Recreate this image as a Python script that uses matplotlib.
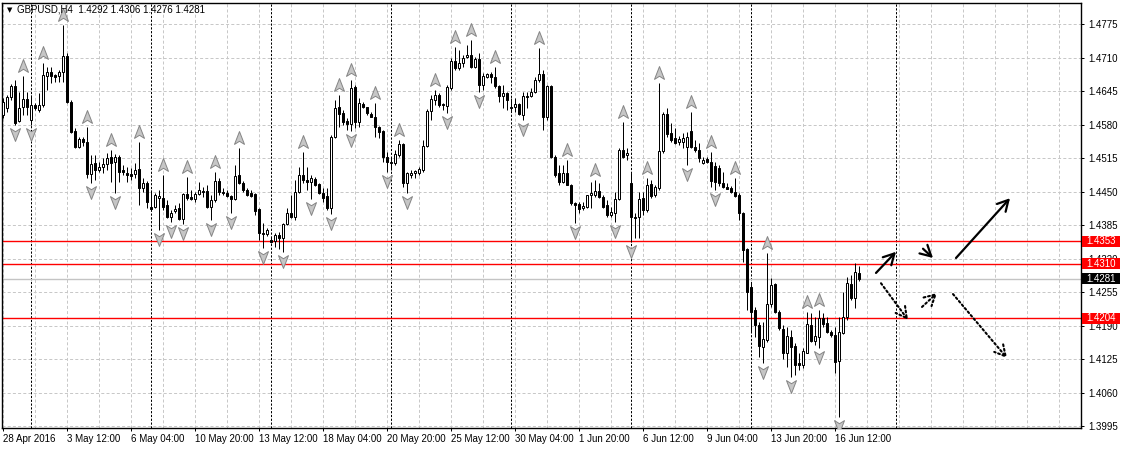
import matplotlib
matplotlib.use("Agg")
import matplotlib.pyplot as plt
from matplotlib.path import Path
from matplotlib.patches import Rectangle, FancyArrowPatch
import matplotlib.transforms as mtransforms

plt.rcParams['font.family'] = ['Liberation Sans', 'DejaVu Sans']

# ---------------- data ----------------
title_text = "GBPUSD,H4  1.4292 1.4306 1.4276 1.4281"

opens = [1.4598, 1.4612, 1.4633, 1.4655, 1.4587, 1.4614, 1.4630, 1.4589, 1.4618, 1.4608,
         1.4618, 1.4674, 1.4682, 1.4676, 1.4674, 1.4682, 1.4713, 1.4624, 1.4567, 1.4536,
         1.4552, 1.4546, 1.4484, 1.4505, 1.4492, 1.4498, 1.4503, 1.4517, 1.4507, 1.4517,
         1.4492, 1.4486, 1.4484, 1.4484, 1.4494, 1.4457, 1.4466, 1.4420, 1.4420, 1.4437,
         1.4437, 1.4424, 1.4400, 1.4412, 1.4418, 1.4397, 1.4445, 1.4439, 1.4435, 1.4445,
         1.4451, 1.4451, 1.4420, 1.4434, 1.4470, 1.4449, 1.4447, 1.4441, 1.4435, 1.4482,
         1.4466, 1.4453, 1.4447, 1.4445, 1.4416, 1.4369, 1.4368, 1.4356, 1.4354, 1.4366,
         1.4360, 1.4387, 1.4408, 1.4400, 1.4449, 1.4482, 1.4472, 1.4468, 1.4474, 1.4465,
         1.4447, 1.4441, 1.4418, 1.4556, 1.4614, 1.4602, 1.4587, 1.4581, 1.4653, 1.4585,
         1.4620, 1.4614, 1.4600, 1.4595, 1.4575, 1.4567, 1.4517, 1.4505, 1.4505, 1.4521,
         1.4542, 1.4466, 1.4482, 1.4486, 1.4486, 1.4492, 1.4538, 1.4606, 1.4628, 1.4637,
         1.4620, 1.4616, 1.4651, 1.4703, 1.4690, 1.4699, 1.4711, 1.4715, 1.4692, 1.4707,
         1.4657, 1.4672, 1.4678, 1.4672, 1.4655, 1.4635, 1.4641, 1.4614, 1.4614, 1.4620,
         1.4598, 1.4635, 1.4635, 1.4643, 1.4666, 1.4678, 1.4595, 1.4655, 1.4517, 1.4486,
         1.4468, 1.4486, 1.4463, 1.4428, 1.4426, 1.4418, 1.4420, 1.4443, 1.4443, 1.4451,
         1.4439, 1.4424, 1.4404, 1.4408, 1.4435, 1.4531, 1.4521, 1.4466, 1.4400, 1.4400,
         1.4437, 1.4414, 1.4465, 1.4443, 1.4457, 1.4529, 1.4600, 1.4564, 1.4554, 1.4546,
         1.4546, 1.4536, 1.4567, 1.4536, 1.4531, 1.4505, 1.4513, 1.4507, 1.4500, 1.4496,
         1.4466, 1.4459, 1.4457, 1.4449, 1.4443, 1.4408, 1.4339, 1.4265, 1.4220, 1.4191,
         1.4148, 1.4162, 1.4232, 1.4271, 1.4216, 1.4183, 1.4137, 1.4168, 1.4150, 1.4117,
         1.4113, 1.4137, 1.4191, 1.4160, 1.4168, 1.4205, 1.4195, 1.4177, 1.4172, 1.4121,
         1.4175, 1.4207, 1.4271, 1.4243, 1.4292]

highs = [1.4631, 1.4637, 1.4659, 1.4666, 1.4643, 1.4674, 1.4643, 1.4637, 1.4622, 1.4641,
         1.4699, 1.4692, 1.4692, 1.4678, 1.4686, 1.4773, 1.4719, 1.4628, 1.4573, 1.4556,
         1.4556, 1.4575, 1.4521, 1.4521, 1.4507, 1.4515, 1.4525, 1.4531, 1.4523, 1.4521,
         1.4501, 1.4498, 1.4496, 1.4505, 1.4546, 1.4476, 1.4470, 1.4453, 1.4447, 1.4453,
         1.4482, 1.4434, 1.4414, 1.4424, 1.4428, 1.4447, 1.4478, 1.4453, 1.4449, 1.4468,
         1.4459, 1.4463, 1.4443, 1.4488, 1.4476, 1.4457, 1.4453, 1.4443, 1.4501, 1.4534,
         1.4470, 1.4457, 1.4453, 1.4447, 1.4418, 1.4389, 1.4379, 1.4362, 1.4369, 1.4371,
         1.4389, 1.4418, 1.4443, 1.4472, 1.4498, 1.4527, 1.4498, 1.4482, 1.4478, 1.4466,
         1.4457, 1.4457, 1.4560, 1.4628, 1.4637, 1.4608, 1.4593, 1.4666, 1.4657, 1.4631,
         1.4624, 1.4614, 1.4604, 1.4622, 1.4577, 1.4569, 1.4527, 1.4517, 1.4531, 1.4550,
         1.4544, 1.4488, 1.4492, 1.4492, 1.4498, 1.4550, 1.4610, 1.4637, 1.4647, 1.4641,
         1.4622, 1.4657, 1.4709, 1.4730, 1.4725, 1.4715, 1.4734, 1.4744, 1.4711, 1.4719,
         1.4680, 1.4680, 1.4682, 1.4692, 1.4657, 1.4657, 1.4643, 1.4631, 1.4631, 1.4622,
         1.4643, 1.4643, 1.4651, 1.4672, 1.4728, 1.4686, 1.4657, 1.4657, 1.4521, 1.4501,
         1.4501, 1.4511, 1.4465, 1.4430, 1.4430, 1.4430, 1.4443, 1.4468, 1.4472, 1.4466,
         1.4443, 1.4434, 1.4420, 1.4449, 1.4534, 1.4585, 1.4534, 1.4486, 1.4408, 1.4449,
         1.4449, 1.4476, 1.4472, 1.4463, 1.4660, 1.4604, 1.4612, 1.4583, 1.4573, 1.4558,
         1.4564, 1.4565, 1.4604, 1.4550, 1.4544, 1.4517, 1.4517, 1.4527, 1.4507, 1.4501,
         1.4488, 1.4466, 1.4461, 1.4476, 1.4447, 1.4410, 1.4340, 1.4273, 1.4226, 1.4197,
         1.4197, 1.4331, 1.4282, 1.4273, 1.4220, 1.4191, 1.4187, 1.4181, 1.4156, 1.4137,
         1.4146, 1.4216, 1.4214, 1.4207, 1.4220, 1.4214, 1.4207, 1.4181, 1.4187, 1.4207,
         1.4255, 1.4284, 1.4288, 1.4311, 1.4306]

lows = [1.4593, 1.4604, 1.4628, 1.4579, 1.4585, 1.4598, 1.4598, 1.4579, 1.4608, 1.4604,
        1.4614, 1.4647, 1.4660, 1.4662, 1.4662, 1.4662, 1.4622, 1.4564, 1.4534, 1.4534,
        1.4539, 1.4476, 1.4466, 1.4472, 1.4488, 1.4486, 1.4492, 1.4468, 1.4447, 1.4468,
        1.4482, 1.4468, 1.4472, 1.4476, 1.4424, 1.4449, 1.4418, 1.4414, 1.4418, 1.4375,
        1.4414, 1.4399, 1.4391, 1.4408, 1.4395, 1.4387, 1.4434, 1.4434, 1.4430, 1.4443,
        1.4439, 1.4418, 1.4395, 1.4430, 1.4443, 1.4443, 1.4439, 1.4408, 1.4434, 1.4465,
        1.4449, 1.4441, 1.4439, 1.4404, 1.4356, 1.4340, 1.4364, 1.4350, 1.4342, 1.4339,
        1.4333, 1.4385, 1.4399, 1.4395, 1.4447, 1.4466, 1.4453, 1.4435, 1.4461, 1.4445,
        1.4430, 1.4414, 1.4406, 1.4554, 1.4575, 1.4579, 1.4569, 1.4567, 1.4573, 1.4575,
        1.4612, 1.4598, 1.4595, 1.4556, 1.4554, 1.4507, 1.4488, 1.4492, 1.4501, 1.4517,
        1.4459, 1.4447, 1.4476, 1.4476, 1.4482, 1.4488, 1.4536, 1.4589, 1.4618, 1.4614,
        1.4608, 1.4602, 1.4647, 1.4686, 1.4686, 1.4692, 1.4709, 1.4690, 1.4690, 1.4643,
        1.4647, 1.4670, 1.4660, 1.4651, 1.4624, 1.4612, 1.4608, 1.4604, 1.4604, 1.4598,
        1.4589, 1.4612, 1.4633, 1.4641, 1.4662, 1.4569, 1.4589, 1.4515, 1.4478, 1.4463,
        1.4466, 1.4463, 1.4424, 1.4389, 1.4408, 1.4414, 1.4418, 1.4418, 1.4439, 1.4437,
        1.4418, 1.4400, 1.4400, 1.4391, 1.4434, 1.4515, 1.4511, 1.4352, 1.4360, 1.4360,
        1.4404, 1.4410, 1.4437, 1.4439, 1.4453, 1.4525, 1.4556, 1.4546, 1.4542, 1.4540,
        1.4534, 1.4501, 1.4534, 1.4527, 1.4507, 1.4503, 1.4505, 1.4459, 1.4453, 1.4461,
        1.4457, 1.4455, 1.4447, 1.4439, 1.4395, 1.4313, 1.4220, 1.4177, 1.4168, 1.4129,
        1.4117, 1.4158, 1.4226, 1.4214, 1.4181, 1.4125, 1.4110, 1.4090, 1.4094, 1.4104,
        1.4108, 1.4137, 1.4158, 1.4152, 1.4146, 1.4187, 1.4175, 1.4168, 1.4098, 1.4013,
        1.4174, 1.4201, 1.4240, 1.4224, 1.4276]

closes = [1.4624, 1.4633, 1.4655, 1.4583, 1.4612, 1.4630, 1.4614, 1.4618, 1.4612, 1.4618,
          1.4676, 1.4682, 1.4674, 1.4672, 1.4682, 1.4713, 1.4624, 1.4565, 1.4536, 1.4552,
          1.4546, 1.4484, 1.4503, 1.4492, 1.4498, 1.4503, 1.4515, 1.4505, 1.4517, 1.4488,
          1.4488, 1.4482, 1.4480, 1.4492, 1.4457, 1.4466, 1.4430, 1.4416, 1.4443, 1.4441,
          1.4420, 1.4400, 1.4408, 1.4416, 1.4397, 1.4445, 1.4437, 1.4435, 1.4445, 1.4453,
          1.4449, 1.4420, 1.4434, 1.4470, 1.4449, 1.4447, 1.4441, 1.4435, 1.4480, 1.4466,
          1.4453, 1.4443, 1.4441, 1.4412, 1.4369, 1.4368, 1.4375, 1.4352, 1.4366, 1.4360,
          1.4387, 1.4408, 1.4400, 1.4449, 1.4482, 1.4472, 1.4468, 1.4476, 1.4463, 1.4447,
          1.4437, 1.4418, 1.4556, 1.4612, 1.4600, 1.4585, 1.4581, 1.4651, 1.4585, 1.4622,
          1.4614, 1.4602, 1.4595, 1.4575, 1.4565, 1.4517, 1.4507, 1.4507, 1.4523, 1.4542,
          1.4466, 1.4486, 1.4486, 1.4490, 1.4494, 1.4538, 1.4606, 1.4630, 1.4637, 1.4618,
          1.4618, 1.4653, 1.4703, 1.4690, 1.4699, 1.4709, 1.4715, 1.4692, 1.4707, 1.4657,
          1.4674, 1.4678, 1.4672, 1.4655, 1.4635, 1.4641, 1.4628, 1.4612, 1.4620, 1.4600,
          1.4635, 1.4633, 1.4643, 1.4666, 1.4678, 1.4595, 1.4655, 1.4517, 1.4482, 1.4468,
          1.4486, 1.4463, 1.4428, 1.4424, 1.4416, 1.4422, 1.4443, 1.4447, 1.4451, 1.4439,
          1.4420, 1.4404, 1.4410, 1.4435, 1.4531, 1.4517, 1.4525, 1.4400, 1.4399, 1.4435,
          1.4414, 1.4463, 1.4441, 1.4459, 1.4529, 1.4600, 1.4562, 1.4550, 1.4544, 1.4552,
          1.4554, 1.4556, 1.4536, 1.4531, 1.4515, 1.4511, 1.4507, 1.4470, 1.4468, 1.4466,
          1.4459, 1.4455, 1.4449, 1.4441, 1.4408, 1.4337, 1.4255, 1.4216, 1.4191, 1.4150,
          1.4164, 1.4232, 1.4269, 1.4216, 1.4185, 1.4137, 1.4170, 1.4148, 1.4113, 1.4113,
          1.4141, 1.4193, 1.4160, 1.4170, 1.4205, 1.4193, 1.4177, 1.4172, 1.4119, 1.4177,
          1.4207, 1.4273, 1.4243, 1.4294, 1.4281]

fractal_up = [5, 10, 15, 21, 27, 34, 40, 46, 53, 59, 75, 84, 87, 93, 99, 108, 113, 117,
              123, 134, 141, 148, 155, 161, 164, 172, 177, 183, 191, 201, 204]
fractal_down = [3, 7, 22, 28, 39, 42, 45, 52, 57, 65, 70, 77, 82, 87, 96, 101, 111, 119,
                130, 143, 153, 157, 171, 178, 190, 197, 204, 209]

price_ticks = [1.3995, 1.4060, 1.4125, 1.4190, 1.4255, 1.4320, 1.4385, 1.4450,
               1.4515, 1.4580, 1.4645, 1.4710, 1.4775]
time_label_idx = [0, 16, 32, 48, 64, 80, 96, 112, 128, 144, 160, 176, 192, 208]
time_labels = ["28 Apr 2016", "3 May 12:00", "6 May 04:00", "10 May 20:00",
               "13 May 12:00", "18 May 04:00", "20 May 20:00", "25 May 12:00",
               "30 May 04:00", "1 Jun 20:00", "6 Jun 12:00", "9 Jun 04:00",
               "13 Jun 20:00", "16 Jun 12:00"]
grid_idx = list(range(0, 270, 8))
separator_idx = [7, 37, 67, 97, 127, 157, 187, 223.25]

red_levels = [1.4353, 1.4310, 1.4204]
bid_level = 1.4281

arrows_solid = [((218.25, 1.4292), (223.25, 1.4333)),
                ((230.0, 1.4339), (232.5, 1.4321)),
                ((238.25, 1.4321), (251.75, 1.4437))]
arrows_dotted = [((219.5, 1.4272), (226.25, 1.4201)),
                 ((229.75, 1.4226), (233.5, 1.4253)),
                 ((237.5, 1.4251), (251.0, 1.4127))]

# ---------------- figure ----------------
W, H = 1121, 449
fig = plt.figure(figsize=(W / 100, H / 100), dpi=100)
fig.patch.set_facecolor('white')
ax = fig.add_axes([2 / W, 21 / H, 1079 / W, 425 / H])
ax.set_facecolor('white')
ax.set_xlim(-0.25, 269.5)
ax.set_ylim(1.399114, 1.481575)

px = 0.72  # one pixel in points

# grid
for p in price_ticks:
    ax.axhline(p, color='#c8c8c8', lw=px, dashes=(3, 2.2), zorder=0.5)
for g in grid_idx:
    ax.axvline(g, color='#c8c8c8', lw=px, dashes=(3, 2.2), zorder=0.5)

# period separators
for s in separator_idx:
    ax.axvline(s, color='black', lw=px, dashes=(2.2, 1.6), zorder=0.8)

# horizontal levels
ax.axhline(bid_level, color='#c4c4c4', lw=1.0, zorder=1)
for lv in red_levels:
    ax.axhline(lv, color='#ff0000', lw=1.0, zorder=1.2)

# candles
for i, (o, h, l, c) in enumerate(zip(opens, highs, lows, closes)):
    ax.plot([i, i], [l, h], color='black', lw=px, zorder=2, solid_capstyle='butt')
    bull = c >= o
    ax.add_patch(Rectangle((i - 0.25, min(o, c)), 0.5, abs(c - o),
                           facecolor='white' if bull else 'black',
                           edgecolor='black', lw=px, zorder=3))

# fractal markers (stealth arrowheads)
up_path = Path([(0, 1), (0.72, -0.85), (0, -0.4), (-0.72, -0.85), (0, 1)],
               [Path.MOVETO, Path.LINETO, Path.LINETO, Path.LINETO, Path.CLOSEPOLY])
dn_path = Path([(0, -1), (0.72, 0.85), (0, 0.4), (-0.72, 0.85), (0, -1)],
               [Path.MOVETO, Path.LINETO, Path.LINETO, Path.LINETO, Path.CLOSEPOLY])
up_tr = mtransforms.offset_copy(ax.transData, fig=fig, x=0, y=10, units='dots')
dn_tr = mtransforms.offset_copy(ax.transData, fig=fig, x=0, y=-9, units='dots')
ax.plot(fractal_up, [highs[k] for k in fractal_up], ls='none', marker=up_path,
        ms=10, mfc='#c6c6c6', mec='#858585', mew=0.7, transform=up_tr, zorder=4,
        clip_on=False)
ax.plot(fractal_down, [lows[k] for k in fractal_down], ls='none', marker=dn_path,
        ms=10, mfc='#c6c6c6', mec='#858585', mew=0.7, transform=dn_tr, zorder=4)

# hand-drawn forecast arrows
for (a, b) in arrows_solid:
    ax.add_patch(FancyArrowPatch(a, b, arrowstyle='->,head_length=0.55,head_width=0.3',
                                 mutation_scale=14, lw=1.6, color='black',
                                 shrinkA=0, shrinkB=0, zorder=5))
for (a, b) in arrows_dotted:
    ax.add_patch(FancyArrowPatch(a, b, arrowstyle='->,head_length=0.55,head_width=0.3',
                                 mutation_scale=14, lw=1.5, color='black',
                                 linestyle=(0, (0.9, 1.3)), shrinkA=0, shrinkB=0,
                                 zorder=5))

# axes styling
for sp in ax.spines.values():
    sp.set_color('black')
    sp.set_linewidth(1.0)
ax.yaxis.tick_right()
ax.set_yticks(price_ticks)
ax.set_yticklabels(['%.4f' % p for p in price_ticks])
ax.tick_params(axis='y', direction='out', length=3 * px, width=px, pad=3,
               labelsize=7, colors='black')
ax.set_xticks(time_label_idx)
ax.set_xticklabels(time_labels)
ax.tick_params(axis='x', direction='out', length=3 * px, width=px, pad=2,
               labelsize=7, colors='black')
for lab in ax.get_xticklabels():
    lab.set_horizontalalignment('left')

# price boxes on the right scale
btr = mtransforms.blended_transform_factory(fig.transFigure, ax.transData)
box_h = 11.5 / 5154
for lv, col in [(red_levels[0], '#ff0000'), (red_levels[1], '#ff0000'),
                (bid_level, 'black'), (red_levels[2], '#ff0000')]:
    r = Rectangle((1082 / W, lv - box_h / 2), 38 / W, box_h, transform=btr,
                  facecolor=col, edgecolor='none', zorder=10, clip_on=False)
    fig.add_artist(r)
    fig.text(1101 / W, lv, '%.4f' % lv, transform=btr, ha='center', va='center',
             color='white', fontsize=7, zorder=11)

# title
fig.text(17 / W, 1 - 10 / H, title_text, ha='left', va='center', fontsize=7,
         color='black', zorder=12)
fig.text(9.5 / W, 1 - 10.5 / H, '\u25bc', ha='center', va='center', fontsize=5,
         family='DejaVu Sans', color='black', zorder=12)

fig.savefig('out.png', dpi=100, facecolor='white')
